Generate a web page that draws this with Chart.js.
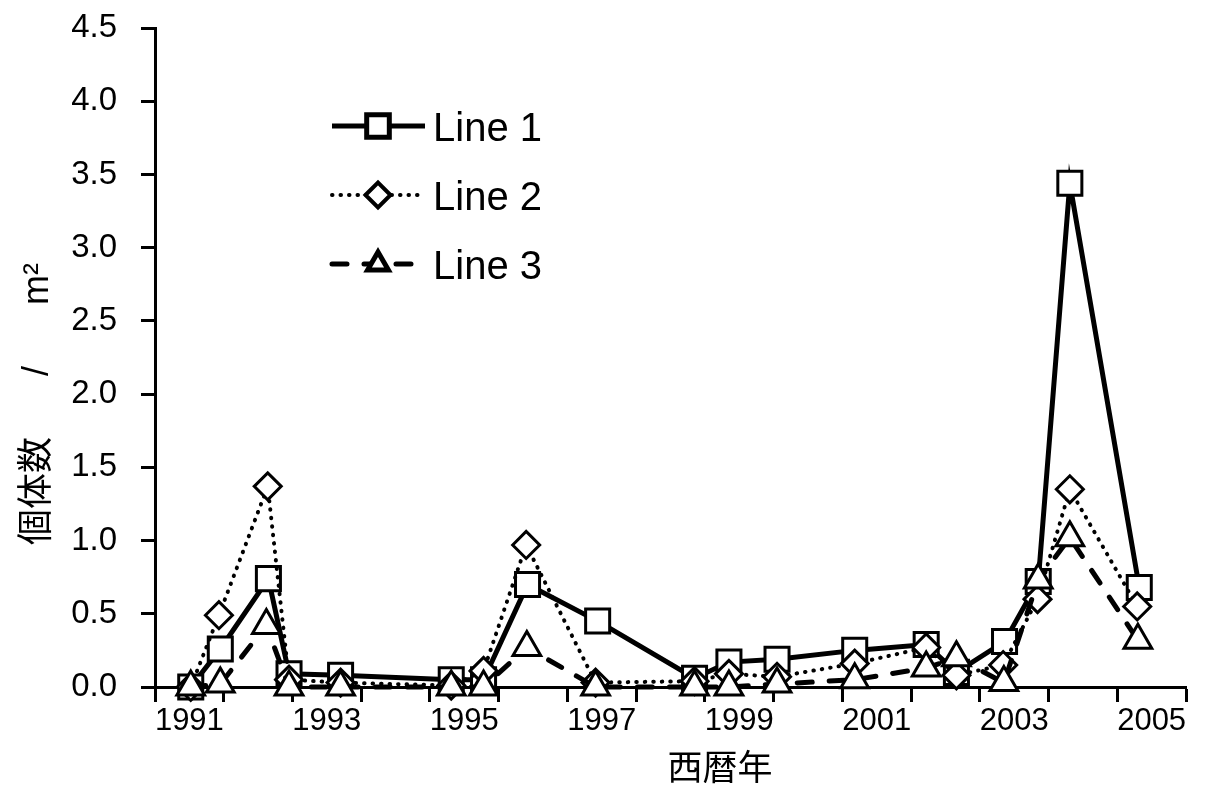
<!DOCTYPE html>
<html>
<head>
<meta charset="utf-8">
<script src="https://cdn.jsdelivr.net/npm/chart.js@4.4.0/dist/chart.umd.min.js"></script>
<style>
  html, body { margin: 0; padding: 0; background: #fff; }
  #wrap { width: 1206px; height: 799px; }
</style>
</head>
<body>
<div id="wrap"><canvas id="chart" width="1206" height="799"></canvas></div>
<script>
const FONT = "'Liberation Sans', Arial, 'Noto Sans CJK JP', sans-serif";

// data (x = fractional year)
const seriesNames = ['Line 1', 'Line 2', 'Line 3'];

const line1Years = [1991.52, 1991.95, 1992.65, 1992.95, 1993.70, 1995.31, 1995.78, 1996.42, 1997.44,
                    1998.85, 1999.35, 2000.05, 2001.18, 2002.22, 2002.66, 2003.36, 2003.85, 2004.31, 2005.32];
const line1Values = [0.00, 0.26, 0.74, 0.09, 0.08, 0.05, 0.05, 0.70, 0.45,
                     0.06, 0.17, 0.19, 0.25, 0.29, 0.10, 0.31, 0.72, 3.44, 0.68];

const line2Years = [1991.52, 1991.93, 1992.64, 1992.95, 1993.70, 1995.31, 1995.78, 1996.40, 1997.41,
                    1998.85, 1999.35, 2000.05, 2001.18, 2002.22, 2002.66, 2003.34, 2003.84, 2004.31, 2005.29];
const line2Values = [0.00, 0.49, 1.37, 0.05, 0.03, 0.01, 0.11, 0.97, 0.03,
                     0.04, 0.09, 0.07, 0.16, 0.27, 0.08, 0.15, 0.60, 1.35, 0.55];

const line3Years = [1991.52, 1991.95, 1992.62, 1992.95, 1993.70, 1995.31, 1995.78, 1996.41, 1997.41,
                    1998.85, 1999.35, 2000.05, 2001.18, 2002.22, 2002.66, 2003.35, 2003.85, 2004.31, 2005.30];
const line3Values = [0.00, 0.02, 0.42, 0.00, 0.00, 0.00, 0.00, 0.27, 0.00,
                     0.00, 0.00, 0.02, 0.05, 0.13, 0.20, 0.03, 0.73, 1.02, 0.32];

const xTickYears = [1991, 1992, 1993, 1994, 1995, 1996, 1997, 1998, 1999, 2000, 2001, 2002, 2003, 2004, 2005, 2006];
const xLabelYears = [1991, 1993, 1995, 1997, 1999, 2001, 2003, 2005];
const yTicks = [0, 0.5, 1.0, 1.5, 2.0, 2.5, 3.0, 3.5, 4.0, 4.5];
const xTitle = '西暦年';
const yTitleParts = ['個体数', '/', 'm²'];   // reads "個体数 / m²", widely spaced

const toPoints = (xs, ys) => xs.map((x, i) => ({ x: x, y: ys[i] }));

const styles = [
  { pointStyle: 'rect', radius: 17, borderWidth: 5, dash: [], cap: 'butt' },
  { pointStyle: 'rectRot', radius: 13.5, borderWidth: 4, dash: [0.5, 8], cap: 'round' },
  { pointStyle: 'triangle', radius: 16, borderWidth: 5, dash: [15, 17], cap: 'round' },
];
const seriesData = [
  toPoints(line1Years, line1Values),
  toPoints(line2Years, line2Values),
  toPoints(line3Years, line3Values),
];

const datasets = seriesNames.map((name, i) => ({
  label: name,
  data: seriesData[i],
  borderColor: '#000',
  borderWidth: styles[i].borderWidth,
  borderDash: styles[i].dash,
  borderCapStyle: styles[i].cap,
  pointStyle: styles[i].pointStyle,
  pointRadius: styles[i].radius,
  pointBorderWidth: 3,
  pointBorderColor: '#000',
  pointBackgroundColor: '#fff',
  tension: 0,
  clip: false,
  order: 3 - i,
}));

// legend inside the plot, Excel style (line sample with marker), plus axis titles
const legendRowsY = [126, 195, 264];
const overlay = {
  id: 'overlay',
  afterDraw(chart) {
    const ctx = chart.ctx;
    ctx.save();
    chart.data.datasets.forEach((ds, i) => {
      const y = legendRowsY[i];
      const x0 = 332, x1 = 425, cx = 378;
      ctx.strokeStyle = '#000';
      ctx.lineWidth = ds.borderWidth;
      ctx.lineCap = ds.borderCapStyle;
      ctx.setLineDash(ds.borderDash);
      ctx.beginPath();
      ctx.moveTo(x0, y);
      ctx.lineTo(x1, y);
      ctx.stroke();
      ctx.setLineDash([]);
      ctx.lineCap = 'butt';
      ctx.fillStyle = '#fff';
      ctx.strokeStyle = '#000';
      Chart.helpers.drawPoint(ctx, {
        pointStyle: ds.pointStyle,
        radius: i === 2 ? 12 : ds.pointRadius - 1,
        borderWidth: 3,
        rotation: 0,
      }, cx, y);
      ctx.fillStyle = '#000';
      ctx.font = '40px ' + FONT;
      ctx.textAlign = 'left';
      ctx.textBaseline = 'middle';
      ctx.fillText(ds.label, 433, y + 4);
    });

    ctx.fillStyle = '#000';
    ctx.textAlign = 'center';
    ctx.textBaseline = 'middle';
    ctx.font = '35px ' + FONT;
    ctx.fillText(xTitle, 720, 770);

    // rotated y title: bottom part starts at y=545, top part ends at y=263
    ctx.translate(38, 0);
    ctx.rotate(-Math.PI / 2);
    ctx.font = '36px ' + FONT;
    ctx.textAlign = 'left';
    ctx.fillText(yTitleParts[0], -545, 0);
    ctx.textAlign = 'right';
    ctx.fillText(yTitleParts[2], -263, 0);
    const lowEnd = -545 + ctx.measureText(yTitleParts[0]).width;
    const highStart = -263 - ctx.measureText(yTitleParts[2]).width;
    ctx.textAlign = 'center';
    ctx.fillText(yTitleParts[1], (lowEnd + highStart) / 2, 0);
    ctx.restore();
  }
};

new Chart(document.getElementById('chart'), {
  type: 'line',
  data: { datasets: datasets },
  options: {
    responsive: false,
    animation: false,
    devicePixelRatio: 1,
    layout: { padding: { top: 28, right: 6, left: 0, bottom: 0 } },
    plugins: { legend: { display: false }, tooltip: { enabled: false } },
    scales: {
      x: {
        type: 'linear',
        min: 1991,
        max: 2006,
        afterBuildTicks: (scale) => {
          const ticks = xTickYears.map(v => ({ value: v }));
          xLabelYears.forEach(v => ticks.push({ value: v + 0.5 }));
          ticks.sort((a, b) => a.value - b.value);
          scale.ticks = ticks;
        },
        afterFit: (scale) => {
          scale.height = 112;
          scale.paddingLeft = 0;
          scale.paddingRight = 0;
        },
        ticks: {
          autoSkip: false,
          maxRotation: 0,
          color: '#000',
          padding: 1,
          font: { family: FONT, size: 31 },
          callback: (v) => Number.isInteger(v) ? '' : String(Math.floor(v)),
        },
        grid: {
          drawOnChartArea: false,
          drawTicks: true,
          tickLength: 15,
          tickWidth: 3,
          color: (c) => (c.tick && Number.isInteger(c.tick.value)) ? '#000' : 'rgba(0,0,0,0)',
        },
        border: { display: true, color: '#000', width: 3 },
      },
      y: {
        min: 0,
        max: 4.5,
        afterBuildTicks: (scale) => { scale.ticks = yTicks.map(v => ({ value: v })); },
        afterFit: (scale) => {
          scale.width = 155;
          scale.paddingTop = 0;
          scale.paddingBottom = 0;
        },
        ticks: {
          color: '#000',
          padding: 24,
          font: { family: FONT, size: 33 },
          callback: (v) => v.toFixed(1),
        },
        grid: {
          drawOnChartArea: false,
          drawTicks: true,
          tickLength: 14,
          tickWidth: 3,
          color: '#000',
        },
        border: { display: true, color: '#000', width: 3 },
      },
    },
  },
  plugins: [overlay],
});
</script>
</body>
</html>
